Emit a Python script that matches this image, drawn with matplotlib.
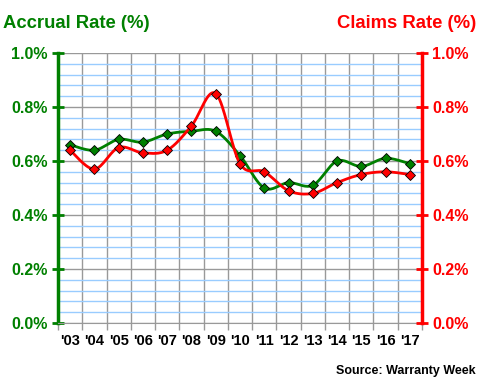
import matplotlib.pyplot as plt
import numpy as np

plt.rcParams['font.family'] = ['Liberation Sans', 'DejaVu Sans']

years = ["'03", "'04", "'05", "'06", "'07", "'08", "'09", "'10",
         "'11", "'12", "'13", "'14", "'15", "'16", "'17"]
accrual = [0.66, 0.64, 0.68, 0.67, 0.70, 0.71, 0.71, 0.62,
           0.50, 0.52, 0.51, 0.60, 0.58, 0.61, 0.59]
claims = [0.64, 0.57, 0.65, 0.63, 0.64, 0.73, 0.85, 0.59,
          0.56, 0.49, 0.48, 0.52, 0.55, 0.56, 0.55]

GREEN = "#008000"
RED = "#FF0000"


def smooth(x, y, n=20):
    # bezier smoothing like spreadsheet "smoothed line"
    x = np.asarray(x, float)
    y = np.asarray(y, float)
    px = np.concatenate([[x[0]], x, [x[-1]]])
    py = np.concatenate([[y[0]], y, [y[-1]]])
    xs, ys = [], []
    t = np.linspace(0, 1, n)
    for i in range(1, len(px) - 2):
        p0 = np.array([px[i], py[i]])
        p3 = np.array([px[i + 1], py[i + 1]])
        p1 = p0 + (np.array([px[i + 1], py[i + 1]]) - np.array([px[i - 1], py[i - 1]])) / 6
        p2 = p3 - (np.array([px[i + 2], py[i + 2]]) - np.array([px[i], py[i]])) / 6
        b = ((1 - t) ** 3)[:, None] * p0 + (3 * (1 - t) ** 2 * t)[:, None] * p1 \
            + (3 * (1 - t) * t ** 2)[:, None] * p2 + (t ** 3)[:, None] * p3
        xs.extend(b[:, 0])
        ys.extend(b[:, 1])
    return np.array(xs), np.array(ys)


x = np.arange(len(years))

fig = plt.figure(figsize=(4.8, 3.8), dpi=100)
ax1 = fig.add_axes([58 / 480, 57 / 380, 364 / 480, 270 / 380])
ax2 = ax1.twinx()

for ax in (ax1, ax2):
    ax.set_xlim(-0.5, len(years) - 0.5)
    ax.set_ylim(0, 1.0)

# grid
ax1.set_yticks(np.arange(0, 1.001, 0.2))
ax1.set_yticks(np.arange(0, 1.001, 0.04), minor=True)
ax1.grid(which='minor', axis='y', color='#99CCFF', lw=1)
ax1.grid(which='major', axis='y', color='#999999', lw=1)
ax1.set_xticks(np.arange(-0.5, len(years), 1), minor=True)
ax1.grid(which='minor', axis='x', color='#999999', lw=1)
ax1.set_axisbelow(True)

sx, sy = smooth(x, accrual)
ax1.plot(sx, sy, color=GREEN, lw=2, zorder=3)
ax1.plot(x, accrual, 'D', color=GREEN, mec='black', mew=0.6, ms=5.5, zorder=4)

sx, sy = smooth(x, claims)
ax2.plot(sx, sy, color=RED, lw=2, zorder=3)
ax2.plot(x, claims, 'D', color=RED, mec='black', mew=0.6, ms=5.5, zorder=4)

ax2.set_yticks(np.arange(0, 1.001, 0.2))

ax1.set_yticklabels(['%.1f%%' % v for v in np.arange(0, 1.001, 0.2)],
                    color=GREEN, fontweight='bold', fontsize=11.5)
ax2.set_yticklabels(['%.1f%%' % v for v in np.arange(0, 1.001, 0.2)],
                    color=RED, fontweight='bold', fontsize=11.5)
ax1.tick_params(axis='y', which='major', direction='inout', length=9, width=2,
                color=GREEN, pad=3)
ax1.tick_params(axis='y', which='minor', length=0)
ax2.tick_params(axis='y', direction='inout', length=9, width=2, color=RED, pad=3)

ax1.set_xticks(x)
ax1.set_xticklabels(years, fontweight='bold', fontsize=10.5)
ax1.tick_params(axis='x', which='major', length=0, pad=8)
ax1.tick_params(axis='x', which='minor', direction='out', length=5,
                color='#999999', width=1)

ax1.spines['top'].set_visible(False)
ax2.spines['top'].set_visible(False)
ax1.spines['right'].set_visible(False)
ax2.spines['left'].set_visible(False)
ax2.spines['bottom'].set_visible(False)
ax1.spines['left'].set_color(GREEN)
ax1.spines['left'].set_linewidth(2.5)
ax2.spines['right'].set_color(RED)
ax2.spines['right'].set_linewidth(2.5)
ax1.spines['bottom'].set_color('#999999')

fig.text(3 / 480, 1 - 28 / 380, 'Accrual Rate (%)', color=GREEN,
         fontweight='bold', fontsize=13.3, ha='left', va='baseline')
fig.text(476 / 480, 1 - 28 / 380, 'Claims Rate (%)', color=RED,
         fontweight='bold', fontsize=13.3, ha='right', va='baseline')
fig.text(476 / 480, 1 - 374 / 380, 'Source: Warranty Week', color='black',
         fontweight='bold', fontsize=9, ha='right', va='baseline')

fig.savefig('out.png', dpi=100)
